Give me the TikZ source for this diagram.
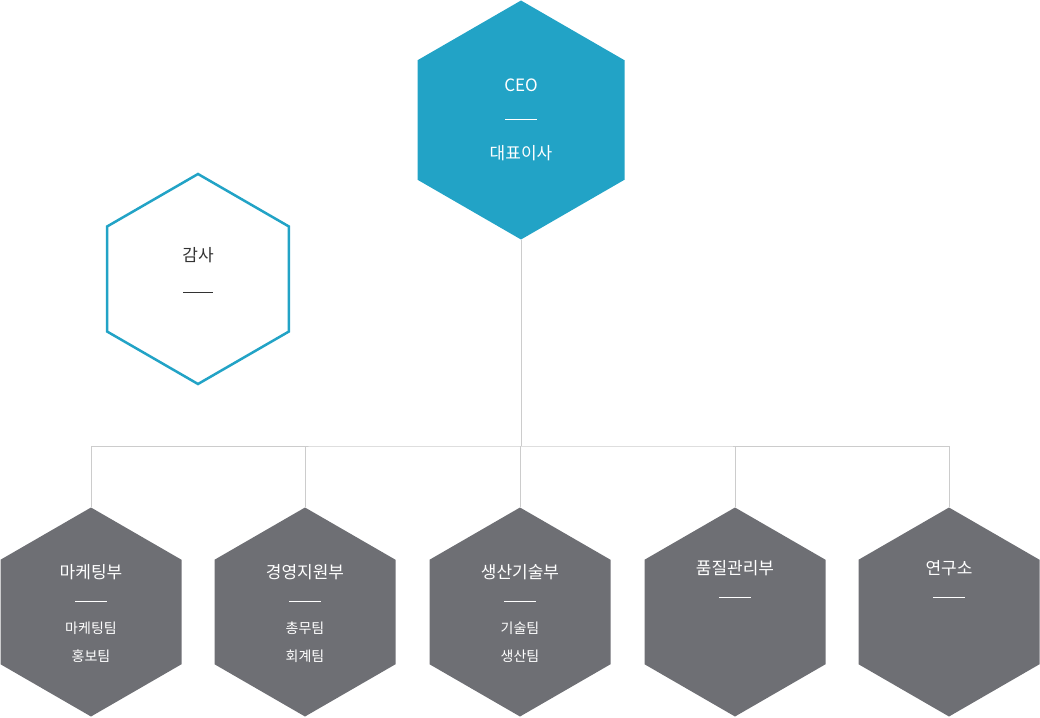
\documentclass[tikz,border=0pt]{standalone}
\usepackage{fontspec}
\setmainfont{Noto Sans CJK KR}
\usetikzlibrary{shapes.geometric,positioning}
\definecolor{ceoblue}{HTML}{22A3C6}
\definecolor{deptgray}{HTML}{6E6F74}
\definecolor{linegray}{HTML}{CCCCCC}
\definecolor{textdark}{HTML}{333333}

\begin{document}
\begin{tikzpicture}[x=1pt, y=-1pt]

\tikzstyle{hexa}=[regular polygon, regular polygon sides=6, shape border rotate=30, inner sep=0pt]
\tikzstyle{ceohex}=[hexa, fill=ceoblue, minimum size=239pt]
\tikzstyle{audithex}=[hexa, fill=white, draw=ceoblue, line width=2.5pt, minimum size=210pt]
\tikzstyle{depthex}=[hexa, fill=deptgray, minimum size=209pt]
\tikzstyle{titel}=[font=\fontsize{17}{20}\selectfont, text=white]
\tikzstyle{under}=[font=\fontsize{14}{17}\selectfont, text=white]
\tikzstyle{stroke}=[white, line width=0.8pt]
\tikzstyle{forbind}=[draw=linegray, line width=0.8pt]

\useasboundingbox (0,0) rectangle (1040,717);

\node[ceohex] (ceo) at (521,120) {};
\node[audithex] (audit) at (198,279) {};
\node[depthex] (mkt) at (91,612) {};
\node[depthex] (mgmt) at (305,612) {};
\node[depthex] (prod) at (520,612) {};
\node[depthex] (qa) at (735,612) {};
\node[depthex] (lab) at (949,612) {};

\coordinate (hub) at (521,446);
\draw[forbind] (ceo.south) -- (hub);
\draw[forbind] (mkt.north) |- (hub) -| (lab.north);
\draw[forbind] (mgmt.north) -- (mgmt.north |- hub);
\draw[forbind] (prod.north) -- (prod.north |- hub);
\draw[forbind] (qa.north) -- (qa.north |- hub);

% ceo
\node[titel] at (521,85) {CEO};
\draw[stroke] (505,119) -- (537,119);
\node[titel] at (521,153) {대표이사};

% audit
\node[titel, text=textdark] at (198,255) {감사};
\draw[textdark, line width=0.8pt] (183,292) -- (213,292);

% departments
\foreach \cx/\navn/\ena/\tob in {91/마케팅부/마케팅팀/홍보팀, 305/경영지원부/총무팀/회계팀, 520/생산기술부/기술팀/생산팀}{
  \node[titel] at (\cx,572) {\navn};
  \draw[stroke] (\cx-16,601) -- (\cx+16,601);
  \node[under] at (\cx,628) {\ena};
  \node[under] at (\cx,656) {\tob};
}
\node[titel] at (735,568) {품질관리부};
\draw[stroke] (719,597) -- (751,597);
\node[titel] at (949,568) {연구소};
\draw[stroke] (933,597) -- (965,597);

\end{tikzpicture}
\end{document}
